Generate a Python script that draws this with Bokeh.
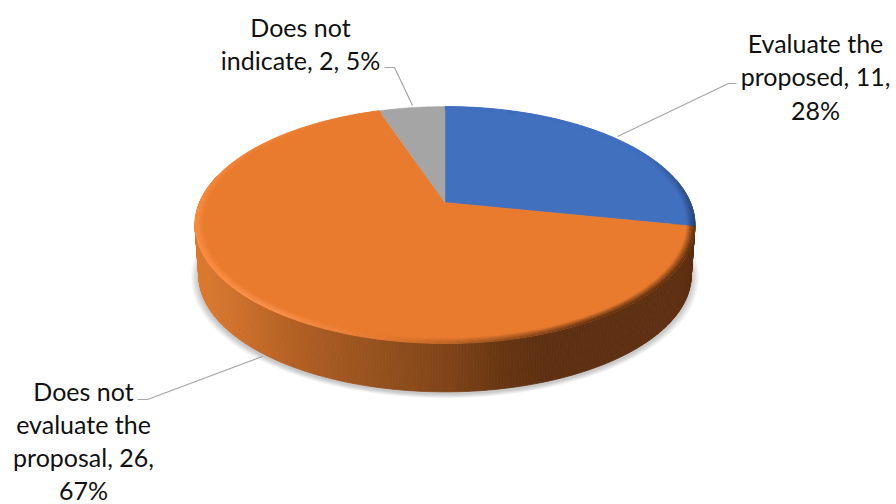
import numpy as np
from bokeh.core.properties import value
from bokeh.embed import file_html
from bokeh.models import ColumnDataSource, Range1d
from bokeh.plotting import figure
from bokeh.resources import INLINE

# Survey answers, clockwise from twelve o'clock
categories = ["Evaluate the proposed", "Does not evaluate the proposal", "Does not indicate"]
counts = [11, 26, 2]
slice_colors = ["#4170BF", "#E97B2F", "#A5A5A5"]

# Wrapped label lines: text before the value, per category
label_heads = [["Evaluate the", "proposed,"], ["Does not", "evaluate the", "proposal,"], ["Does not", "indicate,"]]

# Disc geometry in page pixels
CX, APEX_Y, RADIUS_X = 444.5, 202.0, 245.4
V_A, V_C = 75.8, -0.19
DEPTH, BOTTOM_SCALE = 50.5, 0.985


def project(theta_deg, r=1.0, dy=0.0, scale=1.0):
    """Perspective view of a circle point; theta runs clockwise from the far side."""
    t = np.radians(theta_deg)
    u, v = r * np.sin(t), -r * np.cos(t)
    den = 1 + V_C * v
    x = CX + scale * RADIUS_X * u / den
    y = (APEX_Y + V_A * v) / den
    y = APEX_Y + scale * (y - APEX_Y) + dy
    return x, y


def hexrgb(c):
    return np.array([int(c[i:i + 2], 16) for i in (1, 3, 5)], dtype=float)


def mix(a, b, t):
    rgb = hexrgb(a) * (1 - t) + hexrgb(b) * t
    return "#%02x%02x%02x" % tuple(int(round(x)) for x in rgb)


def ramp(pos, stops):
    xs = [s[0] for s in stops]
    rgb = [np.interp(pos, xs, [hexrgb(s[1])[k] for s in stops]) for k in range(3)]
    return "#%02x%02x%02x" % tuple(int(round(x)) for x in rgb)


total = sum(counts)
edges = np.concatenate([[0], np.cumsum(counts) / total * 360])

p = figure(width=896, height=504, output_backend="svg", toolbar_location=None,
           x_range=Range1d(0, 896), y_range=Range1d(504, 0), min_border=0)
p.axis.visible = False
p.grid.visible = False
p.outline_line_color = None
p.background_fill_color = "#ffffff"
p.border_fill_color = "#ffffff"

# Soft ground shadow under the disc
full = np.linspace(0, 360, 181)
for grow in np.linspace(1.032, 1.004, 8):
    sx, sy = project(full, r=1.0, dy=DEPTH + 2, scale=BOTTOM_SCALE * grow)
    p.patch(sx, sy, fill_color="#000000", fill_alpha=0.028, line_color=None)

# Outer wall: thin strips shaded by horizontal position
orange_wall = [(198, "#DC7A30"), (240, "#CB6F2A"), (300, "#B05E23"), (380, "#94511E"),
               (444, "#814418"), (500, "#683612"), (545, "#5E3011"), (700, "#5E3011")]
blue_wall = [(640, "#2F5597"), (700, "#263F70")]
wall_xs, wall_ys, wall_cols = [], [], []
wall_steps = np.arange(78, 284, 0.6)
for a, b in zip(wall_steps[:-1], wall_steps[1:]):
    xa, ya = project(a)
    xb, yb = project(b)
    xc, yc = project(b, dy=DEPTH, scale=BOTTOM_SCALE)
    xd, yd = project(a, dy=DEPTH, scale=BOTTOM_SCALE)
    mid = (a + b) / 2
    idx = int(np.searchsorted(edges, mid) - 1)
    stops = blue_wall if idx == 0 else orange_wall
    wall_xs.append([xa, xb, xc, xd])
    wall_ys.append([ya, yb, yc, yd])
    wall_cols.append(ramp((xa + xb) / 2, stops))
p.patches(wall_xs, wall_ys, fill_color=wall_cols, line_color=wall_cols, line_width=0.8)

# Flat top face, one wedge per category
for i, col in enumerate(slice_colors):
    th = np.linspace(edges[i], edges[i + 1], 90)
    ex, ey = project(th)
    p.patch(np.r_[CX, ex], np.r_[APEX_Y, ey], fill_color=col, line_color=col, line_width=0.5)

# Bevelled rim around the top face: highlight on the left, shade on the right
orange_rim = [(101, "#5A2D10"), (150, "#5A2D10"), (172, "#9A5420"), (192, "#E47A30"),
              (215, "#FB9550"), (270, "#FA8C3E"), (310, "#F08238"), (335, "#E97B2F")]
blue_rim = [(60, "#4170BF"), (85, "#2E4E88"), (101.5, "#22406F")]
rim_rs = np.linspace(1.0, 0.962, 9)
rim_xs, rim_ys, rim_cols = [], [], []
for r0, r1, k in zip(rim_rs[:-1], rim_rs[1:], range(len(rim_rs) - 1)):
    fade = k / (len(rim_rs) - 2)
    for i, base in enumerate(slice_colors):
        if i == 2:
            continue
        th = np.arange(edges[i], edges[i + 1], 2.0)
        th = np.r_[th, edges[i + 1]]
        stops = blue_rim if i == 0 else orange_rim
        for a, b in zip(th[:-1], th[1:]):
            x0, y0 = project(a, r=r0)
            x1, y1 = project(b, r=r0)
            x2, y2 = project(b, r=r1)
            x3, y3 = project(a, r=r1)
            rim_xs.append([x0, x1, x2, x3])
            rim_ys.append([y0, y1, y2, y3])
            edge = ramp((a + b) / 2, stops)
            c = mix(edge, base, fade ** 1.1)
            rim_cols.append(c)
p.patches(rim_xs, rim_ys, fill_color=rim_cols, line_color=rim_cols, line_width=0.4)

# Leader lines from the disc to the labels
leaders_x = [[617, 728, 736], [262, 147, 137], [412, 394, 384]]
leaders_y = [[136, 83, 83], [356, 399, 399], [105, 67, 67]]
p.multi_line(leaders_x, leaders_y, line_color="#A6A6A6", line_width=1.2)

# Data labels: name, count and share, split over the lines they wrap to
shares = [round(100 * c / total) for c in counts]
label_lines = [
    [label_heads[0][0], f"{label_heads[0][1]} {counts[0]},", f"{shares[0]}%"],
    [label_heads[1][0], label_heads[1][1], f"{label_heads[1][2]} {counts[1]},", f"{shares[1]}%"],
    [label_heads[2][0], f"{label_heads[2][1]} {counts[2]}, {shares[2]}%"],
]
anchors = [(815, 42, 33.5), (83, 390, 33), (300, 26, 33.5)]
tx, ty, tt = [], [], []
for lines, (ax, ay, step) in zip(label_lines, anchors):
    for n, line in enumerate(lines):
        tx.append(ax)
        ty.append(ay + n * step)
        tt.append(line)
src = ColumnDataSource(dict(x=tx, y=ty, text=tt))
p.text("x", "y", text="text", source=src, text_font=value("Lato"), text_font_size="25px",
       text_color="#111111", text_align="center", text_baseline="middle")

open("out.html", "w").write(file_html(p, INLINE))
